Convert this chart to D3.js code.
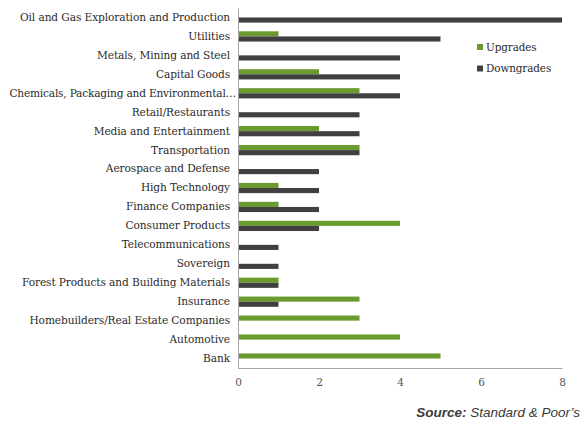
<!DOCTYPE html>
<html><head><meta charset="utf-8">
<script src="https://cdn.jsdelivr.net/npm/d3@7/dist/d3.min.js"></script>
<style>body{margin:0;background:#fff}svg{display:block}</style>
</head><body>
<script>
const categories = ["Oil and Gas Exploration and Production","Utilities","Metals, Mining and Steel","Capital Goods","Chemicals, Packaging and Environmental\u2026","Retail/Restaurants","Media and Entertainment","Transportation","Aerospace and Defense","High Technology","Finance Companies","Consumer Products","Telecommunications","Sovereign","Forest Products and Building Materials","Insurance","Homebuilders/Real Estate Companies","Automotive","Bank"];
const upgrades   = [0,1,0,2,3,0,2,3,0,1,1,4,0,0,1,3,3,4,5];
const downgrades = [8,5,4,4,4,3,3,3,2,2,2,2,1,1,1,1,0,0,0];
const seriesNames = ["Upgrades","Downgrades"];
const xTicks = [0,2,4,6,8];

(function(){
const W=582,H=421;
const svg=d3.select("body").append("svg").attr("width",W).attr("height",H);
const mL=238,mR=562,mT=8,mB=368;
const x=d3.scaleLinear().domain([0,8]).range([mL,mR]);
const y=d3.scaleBand().domain(categories).range([mT,mB]).paddingInner(0.46).paddingOuter(0.23);
const sub=d3.scaleBand().domain(seriesNames).range([0,y.bandwidth()]);
const colors={Upgrades:"#6b9b2f",Downgrades:"#404040"};
const serif="'DejaVu Serif',serif";

const data=categories.map((c,i)=>({c,Upgrades:upgrades[i],Downgrades:downgrades[i]}));
const g=svg.append("g");
data.forEach(d=>{
  seriesNames.forEach(s=>{
    if(d[s]>0) g.append("rect").attr("x",x(0)).attr("y",y(d.c)+sub(s)).attr("width",x(d[s])-x(0)).attr("height",sub.bandwidth()).attr("fill",colors[s]);
  });
});

const yAxis=svg.append("g").attr("transform",`translate(${mL},0)`).call(d3.axisLeft(y).tickSize(0).tickPadding(8));
yAxis.select(".domain").attr("stroke","#a6a6a6");
yAxis.selectAll("text").attr("font-family",serif).attr("font-size",10.6).attr("fill","#2b2b2b").attr("letter-spacing","-0.1");
yAxis.selectAll(".tick text").filter(d=>d===categories[4]).attr("x",-2).attr("letter-spacing","-0.2");
const xAxis=svg.append("g").attr("transform",`translate(0,${mB})`).call(d3.axisBottom(x).tickValues(xTicks).tickSize(0).tickPadding(11).tickFormat(d3.format("d")));
xAxis.select(".domain").attr("stroke","#a6a6a6");
xAxis.selectAll("text").attr("font-family",serif).attr("font-size",10.5).attr("fill","#555");

const lg=svg.append("g").attr("transform","translate(477,47)");
seriesNames.forEach((s,i)=>{
  lg.append("rect").attr("x",0).attr("y",i*21.5-3).attr("width",6).attr("height",6).attr("fill",colors[s]);
  lg.append("text").attr("x",9).attr("y",i*21.5).attr("dy","0.35em").attr("font-family",serif).attr("font-size",10.4).attr("fill","#2b2b2b").attr("letter-spacing","-0.1").text(s);
});

const src=svg.append("text").attr("x",580).attr("y",417).attr("text-anchor","end").attr("font-family","'Liberation Sans',Arial,sans-serif").attr("font-size",13.5).attr("font-style","italic").attr("fill","#3a3a3a");
src.append("tspan").attr("font-weight","bold").text("Source:");
src.append("tspan").text(" Standard & Poor\u2019s");
})();
</script>
</body></html>
